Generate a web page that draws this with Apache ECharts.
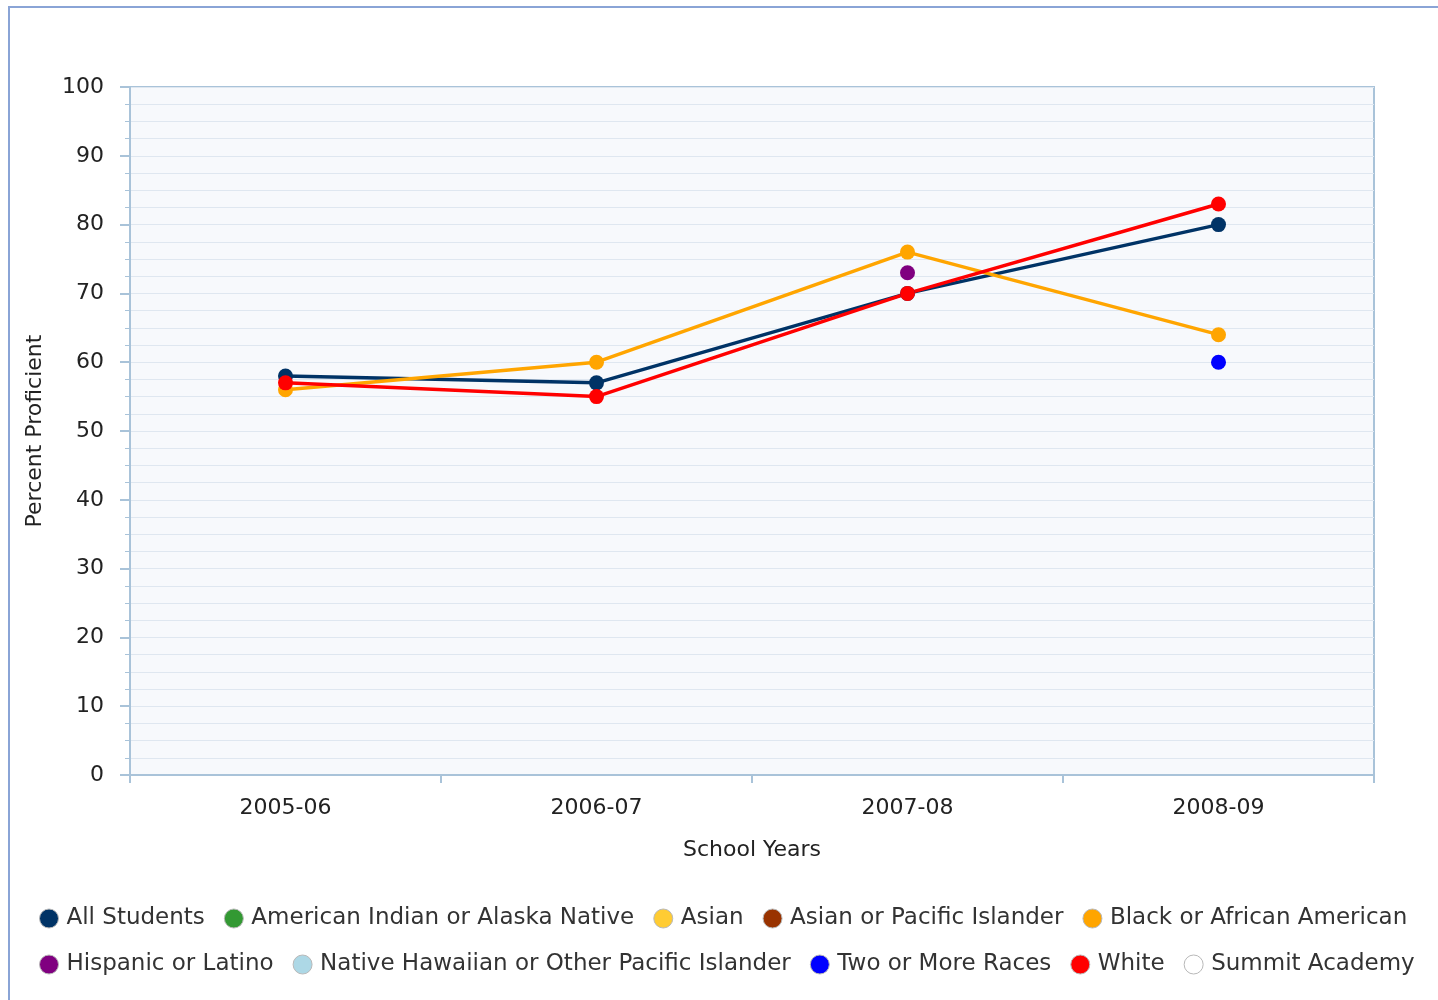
<!DOCTYPE html>
<html>
<head>
<meta charset="utf-8">
<script src="https://cdn.jsdelivr.net/npm/echarts@6/dist/echarts.min.js"></script>
<style>
  html, body { margin: 0; padding: 0; background: #fff; overflow: hidden; }
  #frame { position: absolute; left: 8px; top: 6px; width: 1500px; height: 1100px; border: 2px solid #8aa4d6; }
  #chart { position: absolute; left: 0; top: 0; width: 1438px; height: 1000px; }
</style>
</head>
<body>
<div id="frame"></div>
<div id="chart"></div>
<script>
  "use strict";

  var years = ['2005-06', '2006-07', '2007-08', '2008-09'];
  var allStudents = [58, 57, 70, 80];
  var americanIndian = [null, null, null, null];
  var asian = [null, null, null, null];
  var asianPacific = [null, null, null, null];
  var black = [56, 60, 76, 64];
  var hispanic = [null, null, 73, null];
  var nativeHawaiian = [null, null, null, null];
  var twoOrMore = [null, null, null, 60];
  var white = [57, 55, 70, 83];
  var summit = [null, null, null, null];

  var rowOne = ['All Students', 'American Indian or Alaska Native', 'Asian', 'Asian or Pacific Islander', 'Black or African American'];
  var rowTwo = ['Hispanic or Latino', 'Native Hawaiian or Other Pacific Islander', 'Two or More Races', 'White', 'Summit Academy'];

  var font = "'DejaVu Sans', Verdana, sans-serif";

  function makeSeries(name, data, color) {
    return {
      name: name,
      type: 'line',
      data: data,
      symbol: 'circle',
      symbolSize: 15,
      connectNulls: false,
      lineStyle: { width: 3.5, color: color },
      itemStyle: { color: color },
      emphasis: { disabled: true }
    };
  }

  var legendBase = {
    orient: 'horizontal',
    left: 39,
    padding: 0,
    icon: 'circle',
    itemWidth: 19,
    itemHeight: 19,
    itemGap: 19,
    itemStyle: { borderColor: '#b8b8b8', borderWidth: 1 },
    textStyle: { fontFamily: font, fontSize: 23, color: '#333', padding: [0, 0, 0, 3] }
  };

  var chart = echarts.init(document.getElementById('chart'));

  chart.setOption({
    animation: false,
    grid: {
      left: 130, right: 64, top: 87, bottom: 225,
      show: true,
      backgroundColor: '#f7f9fc',
      borderColor: '#a9c3d9',
      borderWidth: 2
    },
    legend: [
      Object.assign({}, legendBase, { top: 907, data: rowOne }),
      Object.assign({}, legendBase, { top: 953, data: rowTwo })
    ],
    xAxis: {
      type: 'category',
      data: years,
      boundaryGap: true,
      name: 'School Years',
      nameLocation: 'middle',
      nameGap: 64,
      nameTextStyle: { fontFamily: font, fontSize: 22, color: '#222' },
      axisLine: { lineStyle: { color: '#a9c3d9', width: 2 } },
      axisTick: { show: true, length: 8, lineStyle: { color: '#a9c3d9', width: 2 } },
      axisLabel: { fontFamily: font, fontSize: 22, color: '#222', margin: 22 },
      splitLine: { show: false }
    },
    yAxis: {
      type: 'value',
      min: 0,
      max: 100,
      interval: 10,
      name: 'Percent Proficient',
      nameLocation: 'middle',
      nameGap: 84,
      nameTextStyle: { fontFamily: font, fontSize: 22, color: '#222' },
      axisLine: { show: true, lineStyle: { color: '#a9c3d9', width: 2 } },
      axisTick: { show: true, length: 10, lineStyle: { color: '#a9c3d9', width: 2 } },
      minorTick: { show: true, splitNumber: 4, length: 5, lineStyle: { color: '#a9c3d9', width: 1 } },
      axisLabel: { fontFamily: font, fontSize: 22, color: '#222', margin: 26 },
      splitLine: { show: true, lineStyle: { color: '#dfe7f0', width: 1 } },
      minorSplitLine: { show: true, lineStyle: { color: '#dfe7f0', width: 1 } }
    },
    series: [
      makeSeries('All Students', allStudents, '#003366'),
      makeSeries('American Indian or Alaska Native', americanIndian, '#339933'),
      makeSeries('Asian', asian, '#ffcc33'),
      makeSeries('Asian or Pacific Islander', asianPacific, '#993300'),
      makeSeries('Black or African American', black, '#ffa500'),
      makeSeries('Hispanic or Latino', hispanic, '#800080'),
      makeSeries('Native Hawaiian or Other Pacific Islander', nativeHawaiian, '#add8e6'),
      makeSeries('Two or More Races', twoOrMore, '#0000ff'),
      makeSeries('White', white, '#ff0000'),
      makeSeries('Summit Academy', summit, '#ffffff')
    ]
  });
</script>
</body>
</html>
